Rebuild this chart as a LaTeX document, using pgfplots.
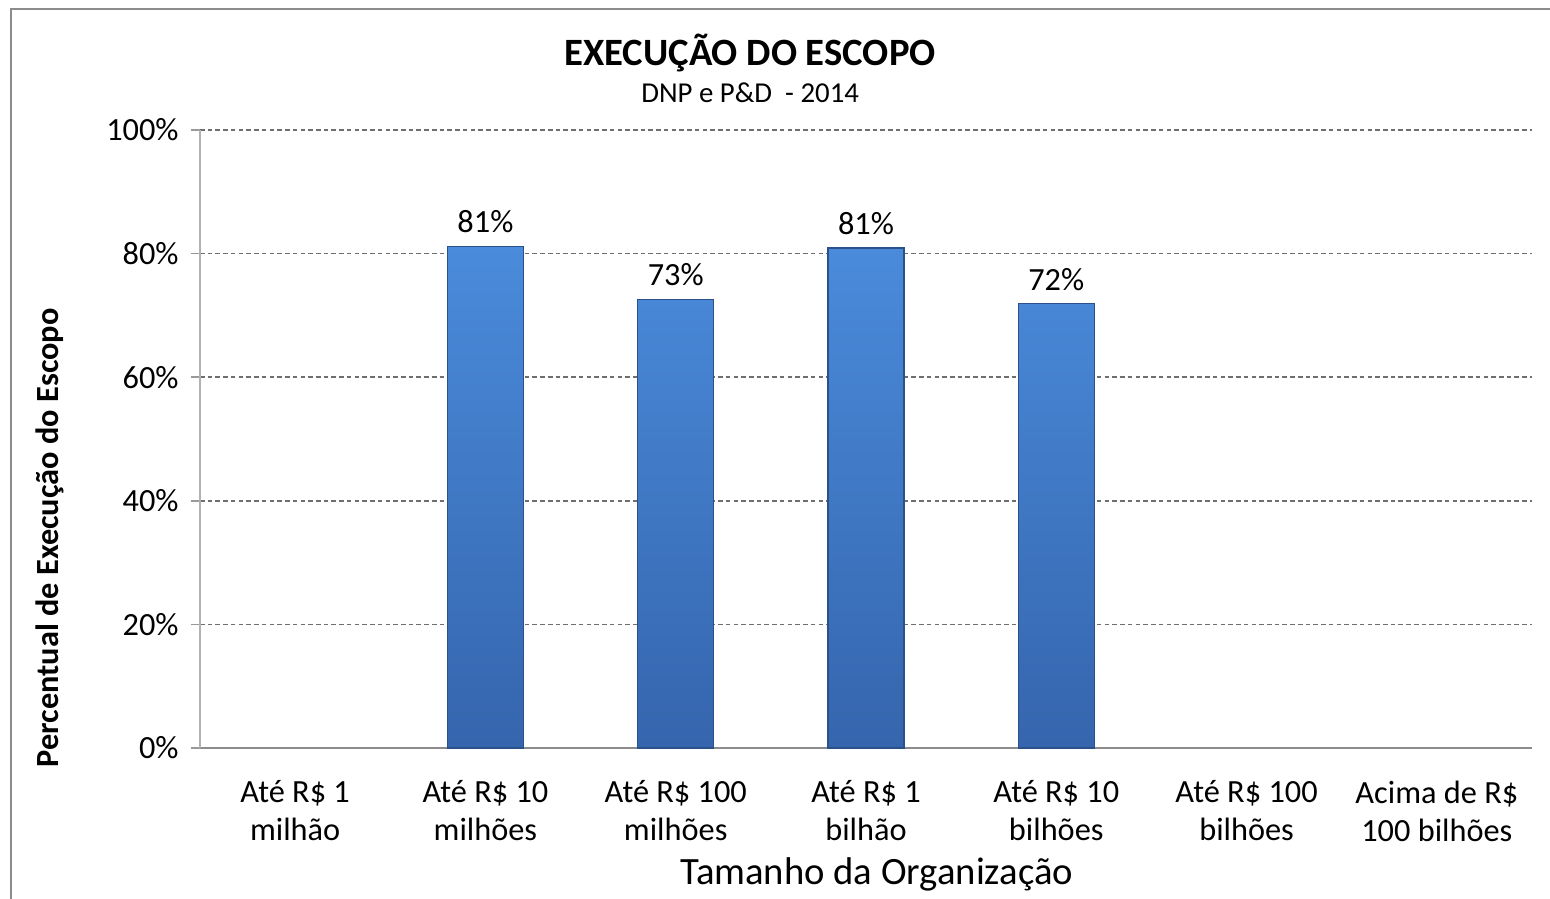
\documentclass[border=0pt]{standalone}
\usepackage{fontspec}
\setmainfont{Carlito}
\usepackage{pgfplots}
\pgfplotsset{compat=1.18}

\definecolor{bartop}{HTML}{4A8BDB}
\definecolor{barbot}{HTML}{3565AD}
\definecolor{axgray}{HTML}{8C8C8C}
\definecolor{gridgray}{HTML}{6F6F6F}

\begin{document}
\begin{tikzpicture}
\useasboundingbox (-2.00,-1.51) rectangle (13.50,7.48);
\draw[axgray, line width=0.5pt] (-1.89,-1.6) -- (-1.89,7.39) -- (13.6,7.39);
\begin{axis}[
  at={(0,0)}, anchor=south west,
  scale only axis, width=13.32cm, height=6.18cm,
  xmin=-0.5, xmax=6.5, ymin=0, ymax=100,
  ybar, bar width=0.76cm,
  axis x line*=bottom, axis y line*=left,
  x axis line style={axgray, line width=0.6pt, -},
  y axis line style={black!30, line width=0.6pt, -},
  xtick={0,...,6},
  xticklabels={{Até R\$ 1\\milhão},{Até R\$ 10\\milhões},{Até R\$ 100\\milhões},
               {Até R\$ 1\\bilhão},{Até R\$ 10\\bilhões},{Até R\$ 100\\bilhões},
               {Acima de R\$\\100 bilhões}},
  xtick style={draw=none},
  xticklabel style={align=center, font=\fontsize{9.2}{10.8}\selectfont, inner sep=0pt, yshift=-0.23cm},
  extra x ticks={-0.5,5.5}, extra x tick labels={},
  extra x tick style={grid=none, tick style={draw=black!35, line width=0.5pt}, major tick length=0.12cm, tick align=outside},
  ytick={0,20,...,100},
  yticklabel={\pgfmathprintnumber{\tick}\%},
  yticklabel style={font=\fontsize{9.2}{11}\selectfont, /pgf/number format/assume math mode=true},
  ytick style={draw=black!40, line width=0.5pt}, major tick length=0.09cm, tick align=outside,
  ymajorgrids, grid style={gridgray, dash pattern=on 1.3pt off 0.9pt, line width=0.45pt},
  xlabel={Tamanho da Organização},
  xlabel style={font=\fontsize{11}{13}\selectfont, at={(rel axis cs:0.508,0)}, anchor=base, yshift=-1.37cm},
  ylabel={\textbf{Percentual de Execução do Escopo}},
  ylabel style={font=\fontsize{9.2}{11}\selectfont, at={(rel axis cs:-0.1126,0.34)}, anchor=center},
  nodes near coords={\pgfmathprintnumber[fixed,precision=0]{\pgfplotspointmeta}\%},
  nodes near coords style={font=\fontsize{9.2}{11}\selectfont, black, anchor=south, yshift=0.01cm, /pgf/number format/assume math mode=true},
  clip=false,
]
\addplot[draw=barbot!80!black, line width=0.3pt, top color=bartop, bottom color=barbot]
  coordinates {(1,81.2) (2,72.6) (3,80.9) (4,71.9)};
\node[font=\fontsize{11}{13}\selectfont\bfseries, anchor=base] at (rel axis cs:0.413,1) [yshift=0.64cm] {EXECUÇÃO DO ESCOPO};
\node[font=\fontsize{8.2}{10}\selectfont, anchor=base] at (rel axis cs:0.413,1) [yshift=0.27cm] {DNP e P\&D\ \ - 2014};
\end{axis}
\end{tikzpicture}
\end{document}
